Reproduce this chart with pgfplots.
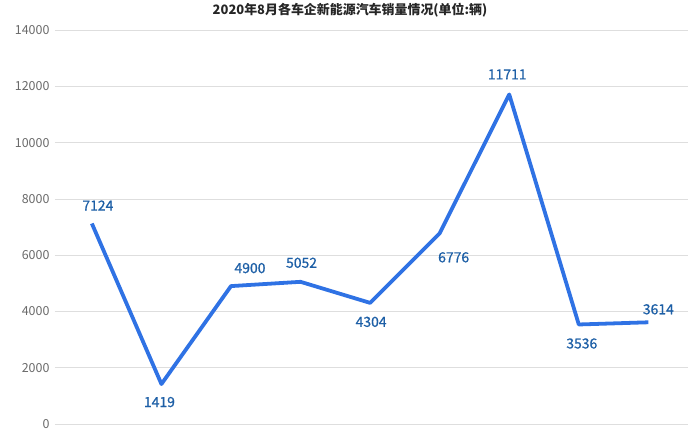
\documentclass[border=0pt]{standalone}
\usepackage{pgfplots}
\pgfplotsset{compat=1.18}
\usepackage{pgfplotstable}
\usepackage{fontspec}
\setmainfont{Noto Sans CJK SC}
\newfontfamily\labfont[FakeBold=0.8]{Noto Sans CJK SC}
\definecolor{linecol}{HTML}{2F72E4}
\definecolor{labcol}{HTML}{1D5FA6}
\definecolor{gridcol}{HTML}{DEDEDE}
\definecolor{tickcol}{HTML}{6A6A6A}
\pgfplotstableread{
x y dx dy
0 7124 6 18
1 1419 -2 -18
2 4900 19 18
3 5052 1 19
4 4304 1 -19
5 6776 14 -24
6 11711 -2 20
7 3536 3 -19
8 3614 10 13
}\salestable
\begin{document}
\begin{tikzpicture}
\useasboundingbox (-55bp,-13bp) rectangle (645bp,424bp);
\begin{axis}[
  at={(0,0)}, anchor=south west,
  scale only axis,
  width=633bp, height=394bp,
  xmin=-0.53, xmax=8.57,
  ymin=0, ymax=14000,
  ytick={0,2000,...,14000},
  xtick=\empty,
  axis line style={draw=none},
  axis x line*=bottom,
  ymajorgrids,
  grid style={gridcol, line width=0.6pt},
  major tick length=0pt,
  tick label style={font=\fontsize{12.5}{14}\selectfont, text=tickcol},
  /pgf/number format/assume math mode=true,
  /pgf/number format/1000 sep={},
  scaled y ticks=false,
  yticklabel style={xshift=-2bp},
  clip=false,
]
\addplot[linecol, line width=3.8pt, line join=round, no markers,
  nodes near coords,
  visualization depends on={\thisrow{dx}\as\mydx},
  visualization depends on={\thisrow{dy}\as\mydy},
  every node near coord/.append style={anchor=center, xshift=\mydx bp, yshift=\mydy bp,
     font=\labfont\fontsize{14}{16}\selectfont, text=labcol},
  nodes near coords={\pgfmathprintnumber[1000 sep={}]{\pgfplotspointmeta}},
  point meta=explicit,
] table[x=x, y=y, meta=y] {\salestable};
\end{axis}
\node[anchor=north, font=\fontsize{13}{15}\selectfont\bfseries, text=black!85] at (295bp,424bp) {2020年8月各车企新能源汽车销量情况(单位:辆)};
\end{tikzpicture}
\end{document}
